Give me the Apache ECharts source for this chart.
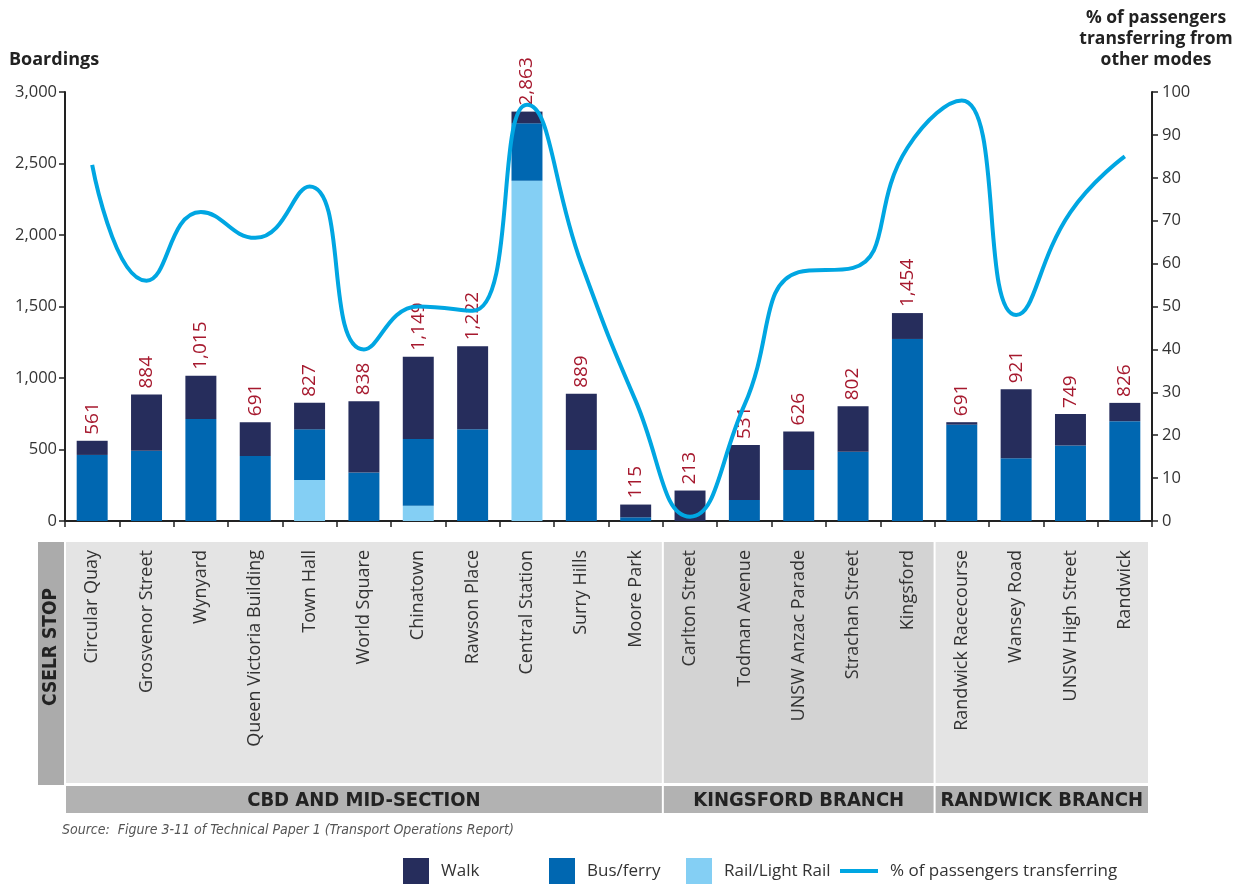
<!DOCTYPE html>
<html><head><meta charset="utf-8">
<script src="https://cdn.jsdelivr.net/npm/echarts@6/dist/echarts.min.js"></script>
<style>html,body{margin:0;padding:0;background:#fff}#c{width:1248px;height:884px}</style>
</head><body><div id="c"></div>
<script>
const stops = ['Circular Quay','Grosvenor Street','Wynyard','Queen Victoria Building','Town Hall','World Square','Chinatown','Rawson Place','Central Station','Surry Hills','Moore Park','Carlton Street','Todman Avenue','UNSW Anzac Parade','Strachan Street','Kingsford','Randwick Racecourse','Wansey Road','UNSW High Street','Randwick'];
const rail = [0,0,0,0,287,0,107,0,2380,0,0,0,0,0,0,0,0,0,0,0];
const bus  = [462,492,713,455,354,340,466,641,401,496,26,0,147,357,485,1273,674,438,528,698];
const walk = [99,392,302,236,186,498,576,581,82,393,89,213,384,269,317,181,17,483,221,128];
const totals = [561,884,1015,691,827,838,1149,1222,2863,889,115,213,531,626,802,1454,691,921,749,826];
const transferPct = [83,56,72,66,78,40,50,49,97,60,28,1,27,58,59,87,98,48,72,85];
const leftTicks = {min:0, max:3000, interval:500};
const rightTicks = {min:0, max:100, interval:10};
const groups = [
  {name:'CBD AND MID-SECTION', first:0, last:10, fill:'#e4e4e4'},
  {name:'KINGSFORD BRANCH', first:11, last:15, fill:'#d3d3d3'},
  {name:'RANDWICK BRANCH', first:16, last:19, fill:'#e4e4e4'}
];

const C_WALK='#262d5c', C_BUS='#0067b1', C_RAIL='#84cff4', C_LINE='#00a6e2', C_LAB='#a6192e';
const FONT = '"Open Sans", "Noto Sans", sans-serif';
const NARROW = '"Liberation Sans Narrow", "DejaVu Sans Condensed", sans-serif';

const chart = echarts.init(document.getElementById('c'), null, {renderer:'canvas'});
const fmt = v => Number(v).toLocaleString('en-US');
const legTxt = {fontFamily:FONT, fontSize:17, color:'#333', padding:[0,0,0,7]};

const option = {
  backgroundColor:'#fff',
  animation:false,
  grid:{left:65, right:96, top:92, bottom:363, containLabel:false},
  legend:[
    {data:[{name:'Walk', icon:'rect'}], left:403, top:858, padding:0, itemWidth:26, itemHeight:26, itemGap:0, textStyle:legTxt},
    {data:[{name:'Bus/ferry', icon:'rect'}], left:549, top:858, padding:0, itemWidth:26, itemHeight:26, itemGap:0, textStyle:legTxt},
    {data:[{name:'Rail/Light Rail', icon:'rect'}], left:686, top:858, padding:0, itemWidth:26, itemHeight:26, itemGap:0, textStyle:legTxt},
    {data:[{name:'% of passengers transferring', icon:'rect'}], left:840, top:858, padding:0, itemWidth:38, itemHeight:4, itemGap:0, textStyle:Object.assign({}, legTxt, {lineHeight:26, height:26})}
  ],
  xAxis:{
    type:'category', data:stops,
    axisLine:{lineStyle:{color:'#222', width:2}},
    axisTick:{show:true, length:6, lineStyle:{color:'#222', width:1.5}},
    axisLabel:{rotate:90, margin:29, fontFamily:FONT, fontSize:18, color:'#333'}
  },
  yAxis:[
    {type:'value', min:leftTicks.min, max:leftTicks.max, interval:leftTicks.interval, position:'left',
     axisLine:{show:true, lineStyle:{color:'#222', width:2}},
     axisTick:{show:true, length:6, lineStyle:{color:'#222', width:1.5}},
     splitLine:{show:false},
     axisLabel:{fontFamily:FONT, fontSize:16.5, color:'#333', margin:8, formatter:v=>fmt(v)}},
    {type:'value', min:rightTicks.min, max:rightTicks.max, interval:rightTicks.interval, position:'right',
     axisLine:{show:true, lineStyle:{color:'#222', width:2}},
     axisTick:{show:true, length:6, lineStyle:{color:'#222', width:1.5}},
     splitLine:{show:false},
     axisLabel:{fontFamily:FONT, fontSize:16.5, color:'#333', margin:10}}
  ],
  series:[
    {name:'Rail/Light Rail', type:'bar', stack:'b', data:rail, barWidth:'57%', itemStyle:{color:C_RAIL}},
    {name:'Bus/ferry', type:'bar', stack:'b', data:bus, barWidth:'57%', itemStyle:{color:C_BUS}},
    {name:'Walk', type:'bar', stack:'b', data:walk, barWidth:'57%', itemStyle:{color:C_WALK},
     label:{show:true, position:'top', rotate:90, align:'left', verticalAlign:'middle', distance:6,
       fontFamily:FONT, fontSize:19, color:C_LAB, formatter:p=>fmt(totals[p.dataIndex])}},
    {name:'% of passengers transferring', type:'line', yAxisIndex:1, data:transferPct, smooth:0.5,
     symbol:'none', lineStyle:{color:C_LINE, width:4}, itemStyle:{color:C_LINE}, z:5}
  ]
};
chart.setOption(option);

function drawDecor(){
  const c0 = chart.convertToPixel({xAxisIndex:0}, 0);
  const c1 = chart.convertToPixel({xAxisIndex:0}, 1);
  const bw = c1 - c0;
  const els = [];
  const pTop = 542, pBot = 783, gTop = 786, gBot = 813;
  els.push({type:'rect', z:-1, shape:{x:38, y:pTop, width:26, height:pBot-pTop+2}, style:{fill:'#ababab'}});
  els.push({type:'text', z:1, x:51, y:647, rotation:Math.PI/2,
    style:{text:'CSELR STOP', fill:'#222', font:'bold 19px '+NARROW, align:'center', verticalAlign:'middle'}});
  groups.forEach((g,i)=>{
    const x0 = chart.convertToPixel({xAxisIndex:0}, g.first) - bw/2 + 1;
    const x1 = chart.convertToPixel({xAxisIndex:0}, g.last) + bw/2 - (i===groups.length-1?4:1);
    els.push({type:'rect', z:-1, shape:{x:x0, y:pTop, width:x1-x0, height:pBot-pTop}, style:{fill:g.fill}});
    els.push({type:'rect', z:-1, shape:{x:x0, y:gTop, width:x1-x0, height:gBot-gTop}, style:{fill:'#b2b2b2'}});
    els.push({type:'text', z:1, x:(x0+x1)/2, y:(gTop+gBot)/2+1,
      style:{text:g.name, fill:'#222', font:'bold 20px '+NARROW, align:'center', verticalAlign:'middle'}});
  });
  els.push({type:'text', x:9, y:60, style:{text:'Boardings', fill:'#222', font:'bold 18px '+FONT, align:'left', verticalAlign:'middle'}});
  els.push({type:'text', x:1156, y:39, style:{text:'% of passengers\ntransferring from\nother modes', fill:'#222', font:'bold 17.5px '+FONT, align:'center', verticalAlign:'middle', lineHeight:21}});
  els.push({type:'text', x:62, y:830, style:{text:'Source:  Figure 3-11 of Technical Paper 1 (Transport Operations Report)', fill:'#555', font:'italic 14px '+NARROW, align:'left', verticalAlign:'middle'}});
  chart.setOption({graphic:{elements:els}});
}
drawDecor();
</script></body></html>
